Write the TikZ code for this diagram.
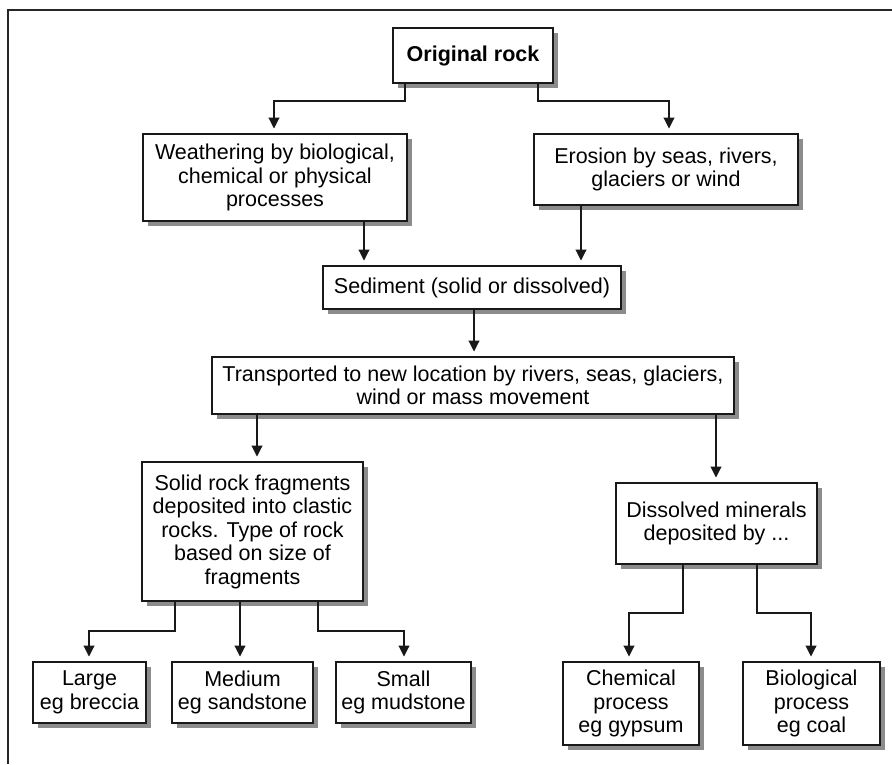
\documentclass[tikz,border=0pt]{standalone}
\usepackage{fontspec}
\setmainfont{Liberation Sans}
\usetikzlibrary{arrows.meta,shadows}
\begin{document}
\begin{tikzpicture}[x=1pt,y=-1pt,
  box/.style={draw=black!90, line width=1.1pt, fill=white, inner sep=0pt, outer sep=0pt,
    align=center, font=\fontsize{21.5}{23.5}\selectfont,
    drop shadow={shadow xshift=4.5pt, shadow yshift=-4.5pt, fill=black!45, opacity=1}},
  arr/.style={draw=black!90, line width=1.1pt, -{Triangle[width=11pt,length=11pt]}, shorten >=5.5pt},
  frame/.style={draw=black!85, line width=2.6pt}]
\useasboundingbox (0,0) rectangle (892,764);
\draw[frame] (8,764) -- (8,10) -- (892,10);

\node[box, minimum width=160pt, minimum height=55pt] (orig) at (473,55.5) {\bfseries Original rock};
\node[box, minimum width=264pt, minimum height=87pt] (weath) at (275,177.5) {Weathering by biological,\\chemical or physical\\processes};
\node[box, minimum width=264pt, minimum height=71pt] (eros) at (666,169.5) {Erosion by seas, rivers,\\glaciers or wind};
\node[box, minimum width=298pt, minimum height=43pt] (sed) at (472,287.5) {Sediment (solid or dissolved)};
\node[box, minimum width=522pt, minimum height=57pt] (trans) at (473,385.5) {Transported to new location by rivers, seas, glaciers,\\wind or mass movement};
\node[box, minimum width=221pt, minimum height=139pt] (solid) at (252.5,531.5) {Solid rock fragments\\deposited into clastic\\rocks. Type of rock\\based on size of\\fragments};
\node[box, minimum width=201pt, minimum height=81pt] (diss) at (716.5,523.5) {Dissolved minerals\\deposited by ...};
\node[box, minimum width=113pt, minimum height=61pt] (large) at (89.5,692.5) {Large\\eg breccia};
\node[box, minimum width=141pt, minimum height=61pt] (medium) at (242.5,692.5) {Medium\\eg sandstone};
\node[box, minimum width=135pt, minimum height=61pt] (small) at (403.5,692.5) {Small\\eg mudstone};
\node[box, minimum width=136pt, minimum height=83pt] (chem) at (631,703.5) {Chemical\\process\\eg gypsum};
\node[box, minimum width=137pt, minimum height=83pt] (bio) at (811.5,703.5) {Biological\\process\\eg coal};

\draw[arr] (orig.south -| 405,0) |- (274,101) -- (weath.north -| 274,0);
\draw[arr] (orig.south -| 538,0) |- (669,101) -- (eros.north -| 669,0);
\draw[arr] (weath.south -| 364,0) -- (sed.north -| 364,0);
\draw[arr] (eros.south -| 581,0) -- (sed.north -| 581,0);
\draw[arr] (sed.south -| 474,0) -- (trans.north -| 474,0);
\draw[arr] (trans.south -| 257,0) -- (solid.north -| 257,0);
\draw[arr] (trans.south -| 716,0) -- (diss.north -| 716,0);
\draw[arr] (solid.south -| 175,0) |- (89,631) -- (large.north -| 89,0);
\draw[arr] (solid.south -| 240,0) -- (medium.north -| 240,0);
\draw[arr] (solid.south -| 318,0) |- (404,631) -- (small.north -| 404,0);
\draw[arr] (diss.south -| 683,0) |- (629,613) -- (chem.north -| 629,0);
\draw[arr] (diss.south -| 757,0) |- (811,613) -- (bio.north -| 811,0);
\end{tikzpicture}
\end{document}
